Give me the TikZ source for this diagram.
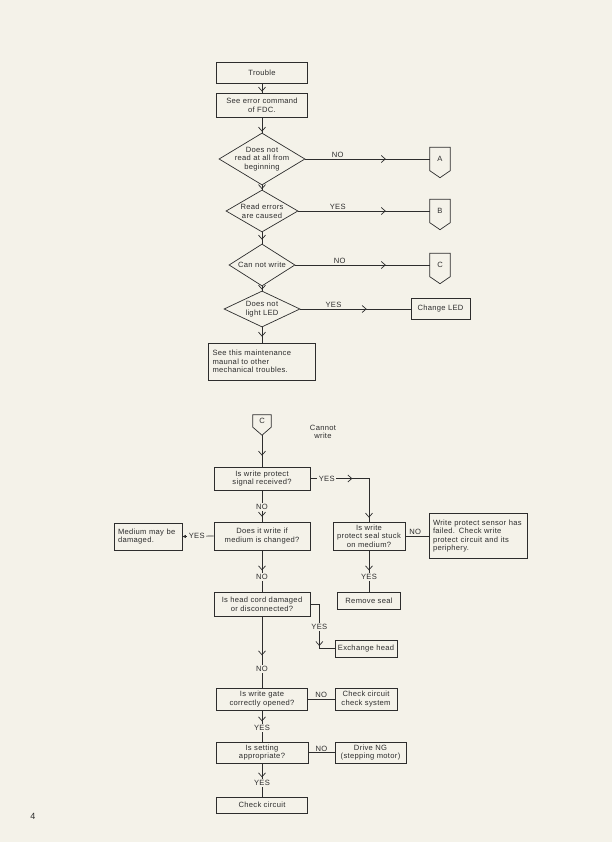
\documentclass[tikz,border=0pt]{standalone}
\usepackage{fontspec}
\setmainfont{Liberation Sans}[LetterSpace=4]
\usetikzlibrary{arrows.meta, shapes.geometric, decorations.markings}
\definecolor{paper}{RGB}{244,242,233}
\definecolor{ink}{RGB}{45,45,45}
\newcommand{\chartfont}{\fontsize{7.6}{8.6}\selectfont}
\tikzset{
  box/.style={rectangle, draw=ink, text=ink, line width=0.7pt, align=center,
    font=\chartfont, inner sep=1pt},
  lbox/.style={box, align=left, inner xsep=4pt},
  dec/.style={diamond, draw=ink, line width=0.7pt, inner sep=0pt},
  dtext/.style={align=center, font=\chartfont, text=ink, inner sep=0pt},
  conn/.style={rectangle, text=ink, font=\chartfont, inner sep=0pt},
  line/.style={draw=ink, line width=0.7pt},
  vtip/.style={postaction={decorate, decoration={markings,
    mark=at position #1 with {\arrow[ink, line width=0.7pt]{Straight Barb[length=4pt, width=7pt]}}}}},
  lbl/.style={font=\chartfont, text=ink, fill=paper, inner sep=1.5pt},
  tag/.style={font=\chartfont, text=ink, inner sep=1pt}
}

\begin{document}
\begin{tikzpicture}[x=1pt, y=-1pt]
  \fill[paper] (0,0) rectangle (612,842);
  \useasboundingbox (0,0) rectangle (612,842);

  % Trouble chart
  \node[box, minimum width=91pt, minimum height=21pt] (trouble) at (262,72.5) {Trouble};
  \node[box, minimum width=91pt, minimum height=24pt] (seeerr) at (262,105) {See error command\\of FDC.};
  \node[dec, minimum width=86pt, minimum height=52pt,
    label={[dtext]center:Does not\\read at all from\\beginning}] (d1) at (262,159) {};
  \node[dec, minimum width=72pt, minimum height=42pt,
    label={[dtext]center:Read errors\\are caused}] (d2) at (262,211) {};
  \node[dec, minimum width=66pt, minimum height=42pt,
    label={[dtext]center:Can not write}] (d3) at (262,265) {};
  \node[dec, minimum width=76pt, minimum height=36pt,
    label={[dtext]center:Does not\\light LED}] (d4) at (262,309) {};
  \node[lbox, minimum width=107pt, minimum height=37pt, text width=99pt] (maint) at (262,361.5)
    {See this maintenance\\maunal to other\\mechanical troubles.};

  \node[conn, minimum width=20pt, minimum height=23pt] (cA) at (440,159) {A};
  \node[conn, minimum width=20pt, minimum height=23pt] (cB) at (440,211) {B};
  \node[conn, minimum width=20pt, minimum height=23pt] (cC) at (440,265) {C};
  \foreach \c in {cA,cB,cC}
    \draw[line] (\c.south west) -- (\c.north west) -- (\c.north east) -- (\c.south east)
      -- ([yshift=-7pt]\c.south) -- cycle;
  \node[box, minimum width=59pt, minimum height=21pt] (chled) at (440.5,309) {Change LED};

  \draw[line, vtip=-1pt] (trouble) -- (seeerr);
  \draw[line, vtip=-1pt] (seeerr) -- (d1.north);
  \draw[line, vtip=-0.5pt] (d1.south) -- (d2.north);
  \draw[line, vtip=-4pt] (d2.south) -- (d3.north);
  \draw[line, vtip=-1pt] (d3.south) -- (d4.north);
  \draw[line, vtip=-6pt] (d4.south) -- (maint);

  \draw[line, vtip=-44pt] (d1.east) -- node[pos=.26, above, tag] {NO} (cA.west);
  \draw[line, vtip=-44pt] (d2.east) -- node[pos=.30, above, tag] {YES} (cB.west);
  \draw[line, vtip=-44pt] (d3.east) -- node[pos=.33, above, tag] {NO} (cC.west);
  \draw[line, vtip=-44pt] (d4.east) -- node[pos=.30, above, tag] {YES} (chled.west);

  % Cannot write chart
  \node[conn, minimum width=18pt, minimum height=12pt] (cC2) at (262,421) {C};
  \draw[line] (cC2.south west) -- (cC2.north west) -- (cC2.north east) -- (cC2.south east)
    -- ([yshift=-8pt]cC2.south) -- cycle;
  \node[tag, align=center] (cwtxt) at (323,432) {Cannot\\write};
  \node[box, minimum width=96pt, minimum height=23pt] (wpsig) at (262,478.5) {Is write protect\\signal received?};
  \node[box, minimum width=96pt, minimum height=28pt] (dwrite) at (262,536) {Does it write if\\medium is changed?};
  \node[lbox, minimum width=68pt, minimum height=27pt, text width=60pt] (medium) at (148,536.5) {Medium may be\\damaged.};
  \node[box, minimum width=72pt, minimum height=28pt] (seal) at (369,536) {Is write\\protect seal stuck\\on medium?};
  \node[lbox, minimum width=98pt, minimum height=45pt, text width=90pt] (wpfail) at (478,536)
    {Write protect sensor has\\failed. Check write\\protect circuit and its\\periphery.};
  \node[box, minimum width=63pt, minimum height=17pt] (remseal) at (369,600.5) {Remove seal};
  \node[box, minimum width=96pt, minimum height=24pt] (headcord) at (262,604) {Is head cord damaged\\or disconnected?};
  \node[box, minimum width=62pt, minimum height=17pt] (exch) at (366,648.5) {Exchange head};
  \node[box, minimum width=91pt, minimum height=22pt] (wgate) at (262,699) {Is write gate\\correctly opened?};
  \node[box, minimum width=62pt, minimum height=22pt] (chksys) at (366,699) {Check circuit\\check system};
  \node[box, minimum width=92pt, minimum height=21pt] (setting) at (262,752.5) {Is setting\\appropriate?};
  \node[box, minimum width=71pt, minimum height=21pt] (drive) at (370.5,752.5) {Drive NG\\(stepping motor)};
  \node[box, minimum width=91pt, minimum height=16pt] (chkcirc) at (262,805) {Check circuit};

  \draw[line, vtip=-11pt] ([yshift=-8pt]cC2.south) -- (wpsig);
  \draw[line, vtip=42pt, vtip=-4pt] (wpsig.east) -| node[pos=.14, lbl] {YES} (seal.north);
  \draw[line, vtip=-5pt] (wpsig) -- node[pos=.53, lbl] {NO} (dwrite);
  \draw[line, -{Latex[length=3.5pt, width=3.5pt]}] (dwrite.west) -- node[pos=.54, lbl] {YES} (medium.east);
  \draw[line] (seal.east) -- node[pos=.42, above, tag] {NO} (wpfail.west);
  \draw[line, vtip=20pt] (seal) -- node[pos=.64, lbl] {YES} (remseal);
  \draw[line, vtip=20pt] (dwrite) -- node[pos=.64, lbl] {NO} (headcord);
  \draw[line, vtip=51pt] (headcord.east) -- ++(9,0) |- node[pos=.26, lbl] {YES} (exch.west);
  \draw[line, vtip=39pt] (headcord) -- node[pos=.74, lbl] {NO} (wgate);
  \draw[line] (wgate) -- node[midway, above, tag] {NO} (chksys);
  \draw[line, vtip=11pt] (wgate) -- node[pos=.56, lbl] {YES} (setting);
  \draw[line] (setting) -- node[midway, above, tag] {NO} (drive);
  \draw[line, vtip=14pt] (setting) -- node[pos=.59, lbl] {YES} (chkcirc);

  \node[font=\fontsize{9}{10}\selectfont, text=ink] (pgno) at (33,816) {4};
\end{tikzpicture}
\end{document}
